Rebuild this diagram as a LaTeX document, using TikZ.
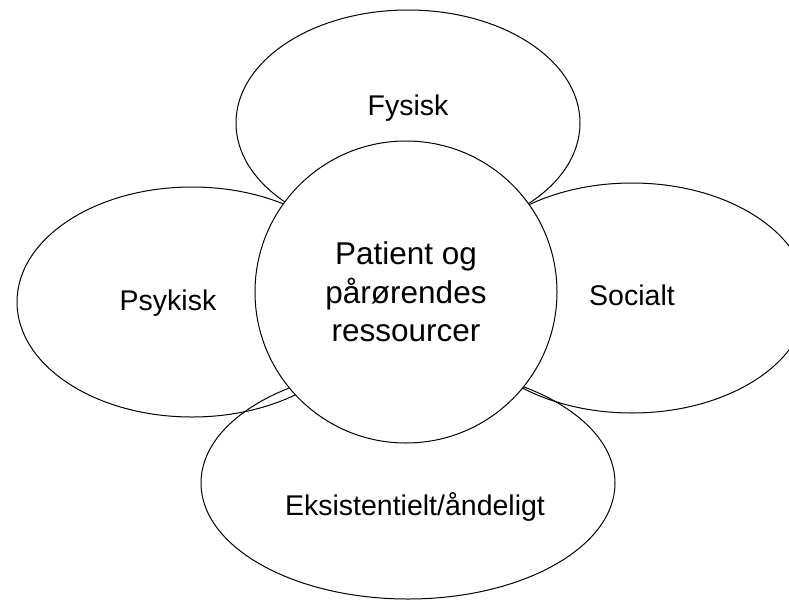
\documentclass[tikz,border=0pt]{standalone}
\usepackage{fontspec}
\setmainfont{Liberation Sans}
\usetikzlibrary{shapes.geometric}

\tikzset{
  petal/.style={ellipse, draw, line width=1pt, inner sep=0pt},
  core/.style={circle, draw, fill=white, line width=1pt, inner sep=0pt,
    minimum size=302pt, align=center,
    font=\fontsize{31.5}{38.7}\selectfont},
  petaltext/.style={anchor=base, inner sep=0pt, font=\fontsize{28.5}{34}\selectfont},
}

\begin{document}
\begin{tikzpicture}[x=1pt,y=-1pt]
    \useasboundingbox (0,0) rectangle (789,600);
    \clip (0,0) rectangle (789,600);

    % outer petals
    \node [petal, minimum width=344pt, minimum height=226pt] (fysisk) at (408,123) {};
    \node [petal, minimum width=350pt, minimum height=230pt] (psykisk) at (192,302) {};
    \node [petal, minimum width=352pt, minimum height=230pt] (socialt) at (632,298) {};
    \node [petal, minimum width=414pt, minimum height=232pt] (eksist) at (408,483) {};

    \node [petaltext] (fysisktxt) at (408,115) {Fysisk};
    \node [petaltext] (psykisktxt) at (168,310) {Psykisk};
    \node [petaltext] (socialttxt) at (632,305) {Socialt};
    \node [petaltext] (eksisttxt) at (415,515) {Eksistentielt/åndeligt};

    % centre
    \node [core] (ressourcer) at (406,292) {Patient og\\pårørendes\\ressourcer};
\end{tikzpicture}
\end{document}
